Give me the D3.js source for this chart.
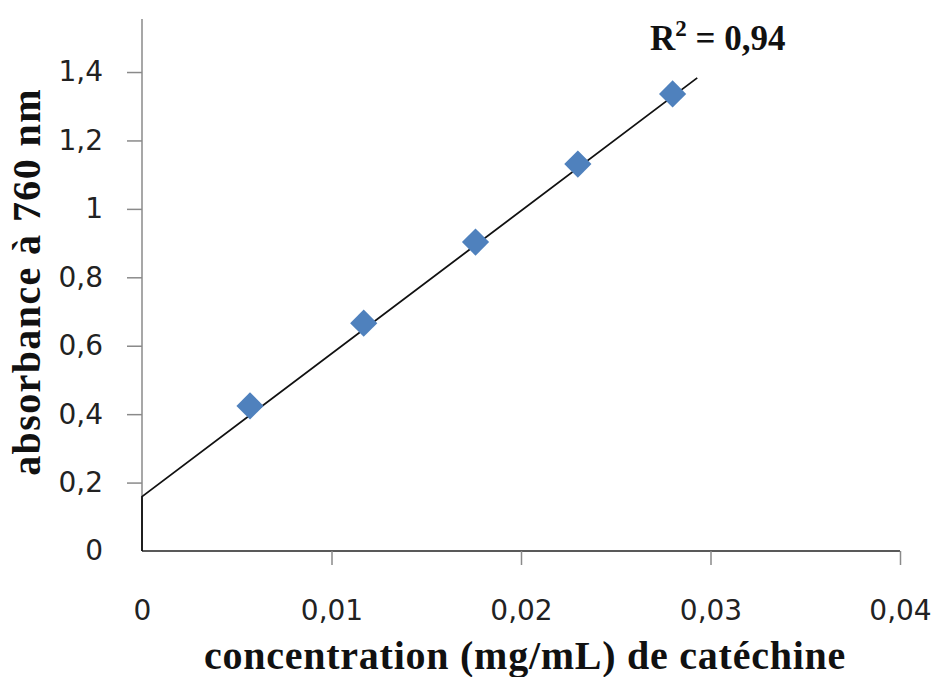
<!DOCTYPE html>
<html>
<head>
<meta charset="utf-8">
<script src="https://cdn.jsdelivr.net/npm/d3@7"></script>
<style>
  body { margin: 0; background: #fff; }
</style>
</head>
<body>
<div id="chart"></div>
<script>
// data
const concentration = [0.0057, 0.0117, 0.0176, 0.0230, 0.0280];
const absorbance = [0.424, 0.666, 0.903, 1.131, 1.336];
const xTicks = [0, 0.01, 0.02, 0.03, 0.04];
const yTicks = [0, 0.2, 0.4, 0.6, 0.8, 1, 1.2, 1.4];
const trendIntercept = 0.159;
const trendSlope = 41.77;
const trendRange = [0, 0.0293];
const r2Label = "0,94";

// set the dimensions and margins of the graph
const margin = {top: 19, right: 39, bottom: 126, left: 142},
    width = 939 - margin.left - margin.right,
    height = 677 - margin.top - margin.bottom;

const x = d3.scaleLinear()
    .domain([0, 0.04])
    .range([0, width]);

const y = d3.scaleLinear()
    .domain([0, 1.555])
    .range([height, 0]);

const fmt = d => String(d).replace(".", ",");

const svg = d3.select("#chart")
    .append("svg")
    .attr("width", 939)
    .attr("height", 677)
    .append("g")
    .attr("transform", `translate(${margin.left},${margin.top})`);

// Y axis
const yAxis = svg.append("g")
    .attr("class", "yAxis")
    .call(d3.axisLeft(y).tickValues(yTicks.filter(d => d > 0)).tickSize(15).tickPadding(24).tickFormat(fmt));
yAxis.select(".domain").attr("stroke", "#8a8a8a").attr("stroke-width", 1.5)
    .attr("d", `M0,${height}V0`);
yAxis.selectAll(".tick line").attr("stroke", "#8a8a8a").attr("stroke-width", 1.5);
yAxis.selectAll("text")
    .style("font-family", "'DejaVu Sans', Verdana, sans-serif")
    .style("font-size", "28px")
    .attr("fill", "#222");
// zero label (no tick mark there)
svg.append("text")
    .attr("x", -39).attr("y", y(0)).attr("dy", "0.32em")
    .attr("text-anchor", "end")
    .style("font-family", "'DejaVu Sans', Verdana, sans-serif")
    .style("font-size", "28px")
    .attr("fill", "#222")
    .text(fmt(yTicks[0]));

// X axis
const xAxis = svg.append("g")
    .attr("class", "xAxis")
    .attr("transform", `translate(0,${height})`)
    .call(d3.axisBottom(x).tickValues(xTicks).tickSize(14).tickPadding(35).tickFormat(fmt));
xAxis.select(".domain").attr("stroke", "#222").attr("stroke-width", 1.5)
    .attr("d", `M0,0H${width}`);
xAxis.selectAll(".tick line").attr("stroke", "#8a8a8a").attr("stroke-width", 1.5)
    .filter(d => d === 0).remove();
xAxis.selectAll("text")
    .style("font-family", "'DejaVu Sans', Verdana, sans-serif")
    .style("font-size", "28px")
    .attr("fill", "#222");

// trend line (runs down the axis to zero, as in the picture)
const trend = [
    [trendRange[0], 0],
    [trendRange[0], trendIntercept],
    [trendRange[1], trendIntercept + trendSlope * trendRange[1]]
];
svg.append("path")
    .datum(trend)
    .attr("fill", "none")
    .attr("stroke", "#111")
    .attr("stroke-width", 1.8)
    .attr("d", d3.line().x(d => x(d[0])).y(d => y(d[1])));

// points
svg.selectAll(".pt")
    .data(concentration.map((c, i) => [c, absorbance[i]]))
    .join("path")
    .attr("class", "pt")
    .attr("d", d3.symbol().type(d3.symbolSquare).size(370))
    .attr("transform", d => `translate(${x(d[0])},${y(d[1])}) rotate(45)`)
    .attr("fill", "#4f81bd");

// R² label
const r2 = svg.append("text")
    .attr("x", 508).attr("y", 31)
    .style("font-family", "'Liberation Serif', 'Times New Roman', serif")
    .style("font-weight", "bold")
    .style("font-size", "35px")
    .attr("fill", "#111");
r2.append("tspan").text("R");
r2.append("tspan").attr("dy", -14).style("font-size", "23px").text("2");
r2.append("tspan").attr("dy", 14).text(" = " + r2Label);

// Add x-axis title
svg.append("text")
    .attr("x", width / 2 + 4)
    .attr("y", height + 118)
    .style("text-anchor", "middle")
    .style("font-family", "'Liberation Serif', 'Times New Roman', serif")
    .style("font-weight", "bold")
    .style("font-size", "40px")
    .style("letter-spacing", "0.75px")
    .attr("fill", "#111")
    .text("concentration (mg/mL) de catéchine");

// Add y-axis title
svg.append("text")
    .attr("transform", "rotate(-90)")
    .attr("x", -(282 - margin.top))
    .attr("y", -margin.left + 40)
    .style("text-anchor", "middle")
    .style("font-family", "'Liberation Serif', 'Times New Roman', serif")
    .style("font-weight", "bold")
    .style("font-size", "40px")
    .style("letter-spacing", "1.4px")
    .attr("fill", "#111")
    .text("absorbance à 760 nm");
</script>
</body>
</html>
